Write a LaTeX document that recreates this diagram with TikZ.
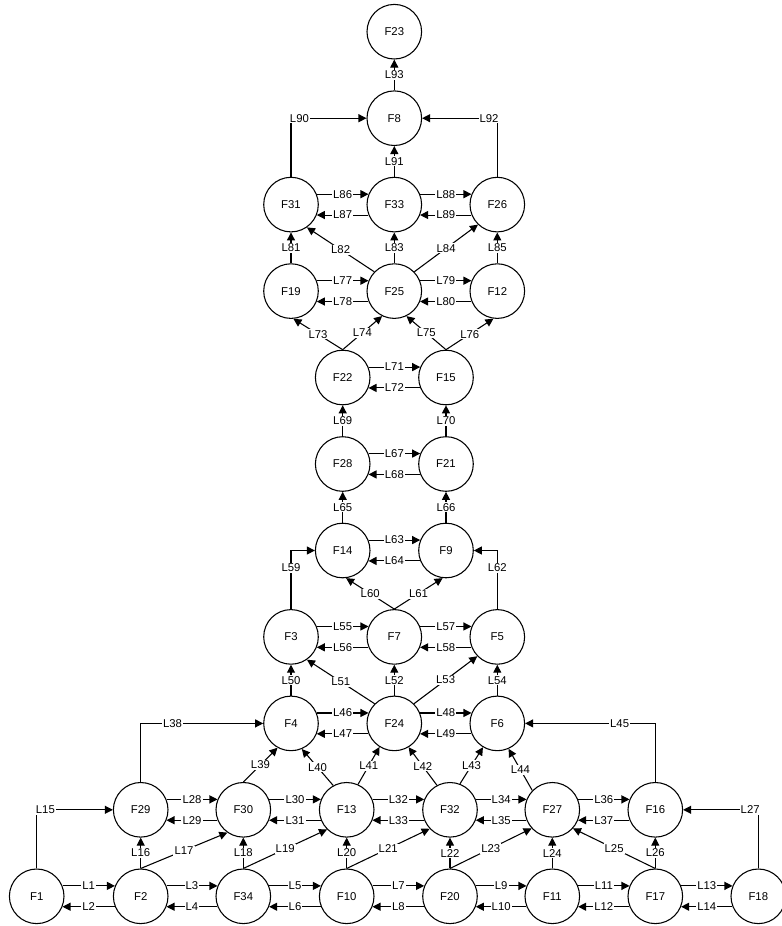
\documentclass[tikz,border=0pt]{standalone}
\usepackage{fontspec}
\setmainfont{Liberation Sans}
\usetikzlibrary{arrows.meta}

% left/right pair of opposite links between two nodes on one row
\newcommand\pairlink[4]{%
  \draw[arr] (#1.22) -- node[lab]{#3} (#2.158);
  \draw[arr] (#2.202) -- node[lab]{#4} (#1.-22);}
% straight link from the top of one node to the bottom of the node above
\newcommand\uplink[3]{%
  \draw[arr] (#1.north) -- node[lab]{#3} (#2.south);}
% slanted link between two given border points
\newcommand\slantlink[3]{%
  \draw[arr] (#1) -- node[lab]{#3} (#2);}

\begin{document}
\begin{tikzpicture}[x=0.75pt,y=-0.75pt,
  fn/.style={circle,draw,line width=0.8pt,minimum size=40.95pt,inner sep=0pt,
             font=\fontsize{8.5}{10}\selectfont},
  lab/.style={fill=white,inner sep=0.8pt,font=\fontsize{8.5}{10}\selectfont},
  arr/.style={-{Triangle[length=6pt,width=6pt]},line width=0.8pt}]
\useasboundingbox (0,0) rectangle (782,926);

% nodes, top to bottom
\node[fn] (F23) at (394.3,31.7) {F23};
\node[fn] (F8)  at (394.3,118.2) {F8};
\node[fn] (F31) at (291,204.6) {F31};
\node[fn] (F33) at (394.3,204.6) {F33};
\node[fn] (F26) at (497.3,204.6) {F26};
\node[fn] (F19) at (291,291.1) {F19};
\node[fn] (F25) at (394.3,291.1) {F25};
\node[fn] (F12) at (497.3,291.1) {F12};
\node[fn] (F22) at (342.7,377.5) {F22};
\node[fn] (F15) at (446,377.5) {F15};
\node[fn] (F28) at (342.7,464) {F28};
\node[fn] (F21) at (446,464) {F21};
\node[fn] (F14) at (342.7,550.5) {F14};
\node[fn] (F9)  at (446,550.5) {F9};
\node[fn] (F3)  at (291,636.9) {F3};
\node[fn] (F7)  at (394.3,636.9) {F7};
\node[fn] (F5)  at (497.3,636.9) {F5};
\node[fn] (F4)  at (291,723.4) {F4};
\node[fn] (F24) at (394.3,723.4) {F24};
\node[fn] (F6)  at (497.3,723.4) {F6};
\node[fn] (F29) at (140.7,809.8) {F29};
\node[fn] (F30) at (243.3,809.8) {F30};
\node[fn] (F13) at (346.7,809.8) {F13};
\node[fn] (F32) at (450,809.8) {F32};
\node[fn] (F27) at (552.3,809.8) {F27};
\node[fn] (F16) at (655.3,809.8) {F16};
\node[fn] (F1)  at (36.7,896.3) {F1};
\node[fn] (F2)  at (140.7,896.3) {F2};
\node[fn] (F34) at (243.3,896.3) {F34};
\node[fn] (F10) at (346.7,896.3) {F10};
\node[fn] (F20) at (450,896.3) {F20};
\node[fn] (F11) at (552.3,896.3) {F11};
\node[fn] (F17) at (655.3,896.3) {F17};
\node[fn] (F18) at (758.3,896.3) {F18};

% row pairs
\pairlink{F1}{F2}{L1}{L2}
\pairlink{F2}{F34}{L3}{L4}
\pairlink{F34}{F10}{L5}{L6}
\pairlink{F10}{F20}{L7}{L8}
\pairlink{F20}{F11}{L9}{L10}
\pairlink{F11}{F17}{L11}{L12}
\pairlink{F17}{F18}{L13}{L14}
\pairlink{F29}{F30}{L28}{L29}
\pairlink{F30}{F13}{L30}{L31}
\pairlink{F13}{F32}{L32}{L33}
\pairlink{F32}{F27}{L34}{L35}
\pairlink{F27}{F16}{L36}{L37}
\pairlink{F4}{F24}{L46}{L47}
\pairlink{F24}{F6}{L48}{L49}
\pairlink{F3}{F7}{L55}{L56}
\pairlink{F7}{F5}{L57}{L58}
\pairlink{F14}{F9}{L63}{L64}
\pairlink{F28}{F21}{L67}{L68}
\pairlink{F22}{F15}{L71}{L72}
\pairlink{F19}{F25}{L77}{L78}
\pairlink{F25}{F12}{L79}{L80}
\pairlink{F31}{F33}{L86}{L87}
\pairlink{F33}{F26}{L88}{L89}

% vertical links
\uplink{F2}{F29}{L16}
\uplink{F34}{F30}{L18}
\uplink{F10}{F13}{L20}
\uplink{F20}{F32}{L22}
\uplink{F11}{F27}{L24}
\uplink{F17}{F16}{L26}
\uplink{F4}{F3}{L50}
\uplink{F24}{F7}{L52}
\uplink{F6}{F5}{L54}
\uplink{F14}{F28}{L65}
\uplink{F9}{F21}{L66}
\uplink{F28}{F22}{L69}
\uplink{F21}{F15}{L70}
\uplink{F19}{F31}{L81}
\uplink{F25}{F33}{L83}
\uplink{F12}{F26}{L85}
\uplink{F33}{F8}{L91}
\uplink{F8}{F23}{L93}

% slanted links
\slantlink{F2.north}{F30.-125}{L17}
\slantlink{F34.north}{F13.-135}{L19}
\slantlink{F10.north}{F32.-137}{L21}
\slantlink{F20.north}{F27.-138}{L23}
\slantlink{F17.north}{F27.-42}{L25}
\slantlink{F30.north}{F4.-119}{L39}
\slantlink{F13.119}{F4.-67}{L40}
\slantlink{F13.66}{F24.-122}{L41}
\slantlink{F32.118}{F24.-59}{L42}
\slantlink{F32.69}{F6.-121}{L43}
\slantlink{F27.136}{F6.-66}{L44}
\slantlink{F24.135}{F3.-55}{L51}
\slantlink{F24.45}{F5.-136}{L53}
\slantlink{F7.north}{F14.-83}{L60}
\slantlink{F7.north}{F9.-97}{L61}
\slantlink{F22.north}{F19.-85}{L73}
\slantlink{F22.north}{F25.-116}{L74}
\slantlink{F15.north}{F25.-64}{L75}
\slantlink{F15.north}{F12.-98}{L76}
\slantlink{F25.136}{F31.-55}{L82}
\slantlink{F25.44}{F26.-134}{L84}

% elbow links
\draw[arr] (F1.north)  |- node[lab,pos=0.557]{L15} (F29.west);
\draw[arr] (F18.north) |- node[lab,pos=0.554]{L27} (F16.east);
\draw[arr] (F29.north) |- node[lab,pos=0.63]{L38}  (F4.west);
\draw[arr] (F16.north) |- node[lab,pos=0.637]{L45} (F6.east);
\draw[arr] (F3.north)  |- node[lab,pos=0.353]{L59} (F14.west);
\draw[arr] (F5.north)  |- node[lab,pos=0.352]{L62} (F9.east);
\draw[arr] (F31.north) |- node[lab,pos=0.556]{L90} (F8.west);
\draw[arr] (F26.north) |- node[lab,pos=0.555]{L92} (F8.east);
\end{tikzpicture}
\end{document}
